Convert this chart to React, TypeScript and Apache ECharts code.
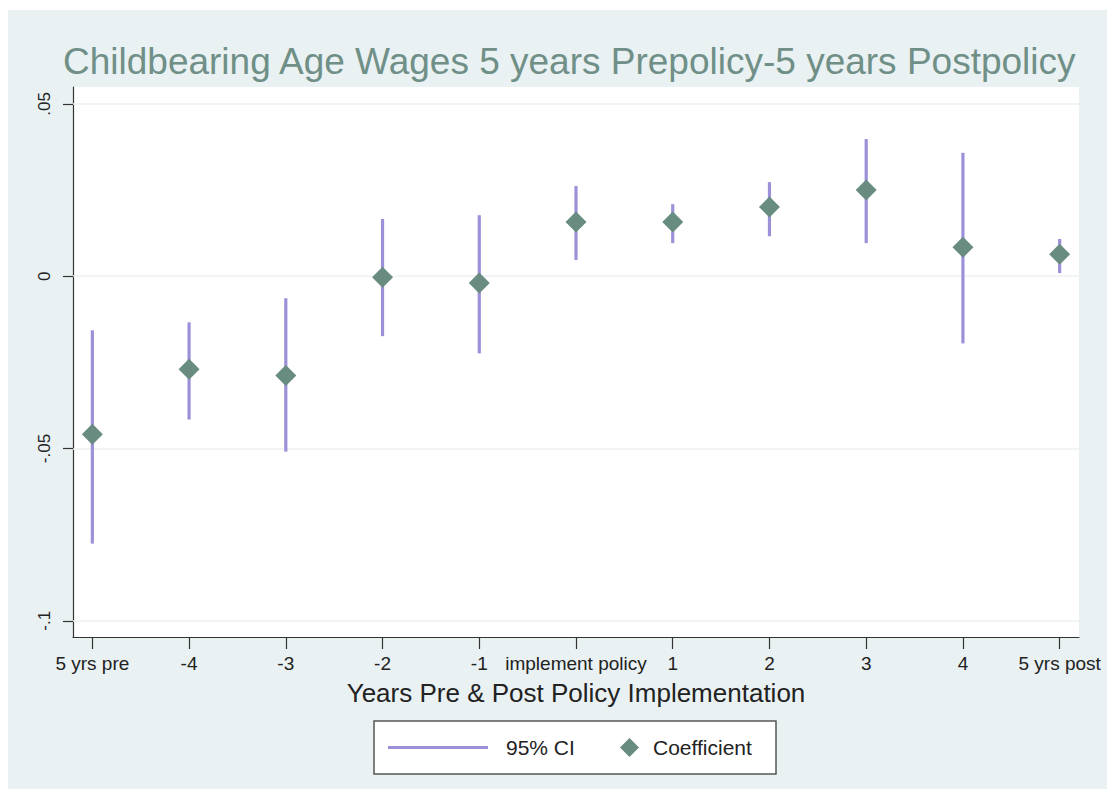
import React, { useEffect, useRef } from "react";
import * as echarts from "echarts";

const categories = ["5 yrs pre", "-4", "-3", "-2", "-1", "implement policy", "1", "2", "3", "4", "5 yrs post"];
const coefficients = [-0.0459, -0.027, -0.0288, -0.0003, -0.002, 0.0157, 0.0157, 0.0201, 0.025, 0.0084, 0.0064];
const ciLower = [-0.0776, -0.0416, -0.0509, -0.0174, -0.0224, 0.0047, 0.0096, 0.0116, 0.0096, -0.0195, 0.0009];
const ciUpper = [-0.0157, -0.0134, -0.0064, 0.0166, 0.0177, 0.0262, 0.0209, 0.0273, 0.0398, 0.0358, 0.0108];
const yTicks = [-0.1, -0.05, 0, 0.05];
const yTickLabels = ["-.1", "-.05", "0", ".05"];
const xTicks = categories.map((_, i) => i);

const TITLE = "Childbearing Age Wages 5 years Prepolicy-5 years Postpolicy";
const X_NAME = "Years Pre & Post Policy Implementation";
const FONT = "'Liberation Sans', Arial, Helvetica, sans-serif";
const CI_COLOR = "#9b91d9";
const DIAMOND_COLOR = "#698c80";

export default function App() {
  const ref = useRef<HTMLDivElement>(null);
  useEffect(() => {
    if (!ref.current) return;
    const chart = echarts.init(ref.current, undefined, { renderer: "svg" });
    const option: any = {
      animation: false,
      textStyle: { fontFamily: FONT },
      title: {
        text: TITLE,
        left: 63,
        top: 43,
        padding: 0,
        textStyle: { fontFamily: FONT, fontSize: 37, fontWeight: "normal", color: "#6f8f87" },
        z: 10,
      },
      graphic: [
        { type: "rect", z: -10, shape: { x: 8, y: 10, width: 1099, height: 779 }, style: { fill: "#e9f1f3" } },
        { type: "rect", z: -5, shape: { x: 374, y: 721, width: 402, height: 53 }, style: { fill: "#ffffff", stroke: "#555555", lineWidth: 1.5 } },
      ],
      grid: { left: 73, top: 87, width: 1006, height: 550, show: true, backgroundColor: "#ffffff", borderWidth: 0 },
      xAxis: {
        type: "value",
        min: -0.2,
        max: 10.2,
        splitLine: { show: false },
        axisLine: { show: true, onZero: false, lineStyle: { color: "#333333", width: 1.2 } },
        axisTick: { show: true, customValues: xTicks, length: 12, lineStyle: { color: "#333333", width: 1.2 } },
        axisLabel: {
          customValues: xTicks,
          formatter: (v: number) => categories[Math.round(v)] ?? "",
          fontFamily: FONT,
          fontSize: 19,
          color: "#222222",
          margin: 17,
        },
        name: X_NAME,
        nameLocation: "middle",
        nameGap: 43,
        nameTextStyle: { fontFamily: FONT, fontSize: 26, color: "#222222" },
      },
      yAxis: {
        type: "value",
        min: -0.1047,
        max: 0.0549,
        splitLine: { show: false },
        axisLine: { show: true, onZero: false, lineStyle: { color: "#333333", width: 1.2 } },
        axisTick: { show: true, customValues: yTicks, length: 10, lineStyle: { color: "#333333", width: 1.2 } },
        axisLabel: {
          customValues: yTicks,
          formatter: (v: number) => {
            let best = 0;
            yTicks.forEach((t, i) => { if (Math.abs(t - v) < Math.abs(yTicks[best] - v)) best = i; });
            return yTickLabels[best];
          },
          rotate: 90,
          fontFamily: FONT,
          fontSize: 17,
          color: "#222222",
          margin: 20,
        },
      },
      legend: [
        {
          data: [{ name: "95% CI", icon: "path://M0,0L100,0L100,3L0,3Z" }],
          left: 388,
          top: 737,
          padding: 0,
          itemWidth: 104,
          itemHeight: 3,
          itemGap: 0,
          textStyle: { fontFamily: FONT, fontSize: 21, color: "#222222", padding: [0, 0, 0, 11] },
          selectedMode: false,
          z: 20,
        },
        {
          data: [{ name: "Coefficient", icon: "diamond" }],
          left: 620,
          top: 737,
          padding: 0,
          itemWidth: 19,
          itemHeight: 19,
          itemGap: 0,
          textStyle: { fontFamily: FONT, fontSize: 21, color: "#222222", padding: [0, 0, 0, 9] },
          selectedMode: false,
          z: 20,
        },
      ],
      series: [
        {
          type: "custom",
          name: "95% CI",
          data: categories.map((_, i) => [i, ciLower[i], ciUpper[i]]),
          encode: { x: 0, y: [1, 2] },
          itemStyle: { color: CI_COLOR },
          renderItem: (params: any, api: any) => {
            const x = api.value(0);
            const p1 = api.coord([x, api.value(1)]);
            const p2 = api.coord([x, api.value(2)]);
            return {
              type: "line",
              shape: { x1: p1[0], y1: p1[1], x2: p2[0], y2: p2[1] },
              style: { stroke: CI_COLOR, lineWidth: 3.2 },
            };
          },
          markLine: {
            silent: true,
            symbol: "none",
            label: { show: false },
            lineStyle: { color: "#edf1f1", width: 1.5, type: "solid" },
            data: yTicks.map((t) => ({ yAxis: t })),
            z: 1,
          },
          z: 3,
        },
        {
          type: "scatter",
          name: "Coefficient",
          data: coefficients.map((v, i) => [i, v]),
          symbol: "diamond",
          symbolSize: 21,
          itemStyle: { color: DIAMOND_COLOR, opacity: 1 },
          z: 5,
        },
      ],
    };
    chart.setOption(option);
    return () => chart.dispose();
  }, []);
  return (
    <div
      ref={ref}
      style={{ position: "fixed", left: 0, top: 0, width: 1107, height: 789, background: "#ffffff" }}
    />
  );
}
